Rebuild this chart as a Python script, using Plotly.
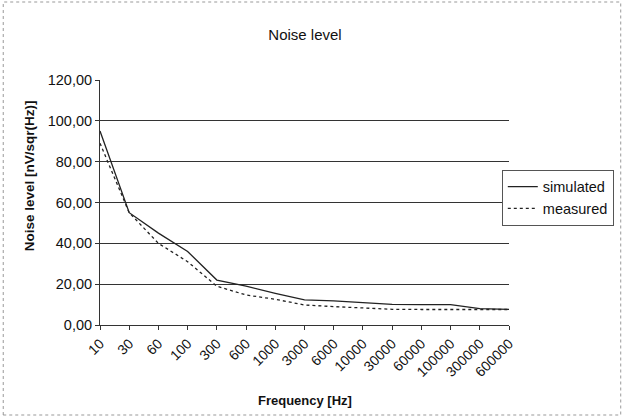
import plotly.graph_objects as go

freq_labels = ["10", "30", "60", "100", "300", "600", "1000", "3000", "6000",
               "10000", "30000", "60000", "100000", "300000", "600000"]
simulated = [95.0, 55.0, 45.0, 36.0, 22.0, 19.0, 15.5, 12.3, 11.8, 11.0,
             10.1, 10.0, 10.0, 8.0, 7.7]
measured = [89.0, 55.0, 40.0, 31.0, 19.0, 14.7, 12.6, 9.8, 9.0, 8.2,
            7.7, 7.6, 7.6, 7.6, 7.6]
y_ticks = [0, 20, 40, 60, 80, 100, 120]
y_tick_text = ["0,00", "20,00", "40,00", "60,00", "80,00", "100,00", "120,00"]

FONT = "Liberation Sans, Arial, sans-serif"

fig = go.Figure()
fig.add_trace(go.Scatter(x=list(range(len(freq_labels))), y=simulated, mode="lines",
                         name="simulated", line=dict(color="#222222", width=1.3)))
fig.add_trace(go.Scatter(x=list(range(len(freq_labels))), y=measured, mode="lines",
                         name="measured", line=dict(color="#222222", width=1.3, dash="dot")))

fig.update_layout(
    width=625, height=417,
    margin=dict(l=100, r=115, t=80, b=92),
    paper_bgcolor="white", plot_bgcolor="white",
    font=dict(family=FONT, color="#111111", size=12),
    title=dict(text="Noise level", x=305 / 625, xanchor="center",
               y=1 - 35 / 417, yanchor="middle",
               font=dict(size=15, family=FONT, color="#111111")),
    showlegend=True,
    legend=dict(x=0.98, xanchor="left", y=0.52, yanchor="middle",
                bordercolor="#555555", borderwidth=1, bgcolor="white",
                font=dict(size=14.5, family=FONT), tracegroupgap=0,
                itemwidth=30),
    xaxis=dict(
        tickmode="array", tickvals=list(range(len(freq_labels))), ticktext=freq_labels,
        range=[0, len(freq_labels) - 1], tickangle=-45,
        showgrid=False, showline=True, linecolor="#333333", linewidth=1,
        ticks="outside", ticklen=4, tickcolor="#333333",
        tickfont=dict(size=14, family=FONT),
        zeroline=False,
    ),
    yaxis=dict(
        tickmode="array", tickvals=y_ticks, ticktext=y_tick_text,
        range=[0, 120],
        showgrid=True, gridcolor="#333333", gridwidth=1,
        showline=True, linecolor="#333333", linewidth=1,
        ticks="outside", ticklen=4, tickcolor="#333333",
        tickfont=dict(size=14.5, family=FONT),
        zeroline=False,
    ),
    annotations=[
        dict(text="<b>Frequency [Hz]</b>", xref="paper", yref="paper",
             x=(305 - 100) / 410, y=-(400 - 325) / 245, xanchor="center", yanchor="middle",
             showarrow=False, font=dict(size=13, family=FONT)),
        dict(text="<b>Noise level [nV/sqr(Hz)]</b>", xref="paper", yref="paper",
             x=-(100 - 29) / 410, y=(325 - 176) / 245, xanchor="center", yanchor="middle",
             textangle=-90, showarrow=False, font=dict(size=13.5, family=FONT)),
    ],
    shapes=[dict(type="rect", xref="paper", yref="paper", x0=-97/410, x1=1+112/410,
                 y0=-90/245, y1=1+78/245, line=dict(color="#999999", width=1, dash="dot"))],
)

fig.write_html("out.html")
